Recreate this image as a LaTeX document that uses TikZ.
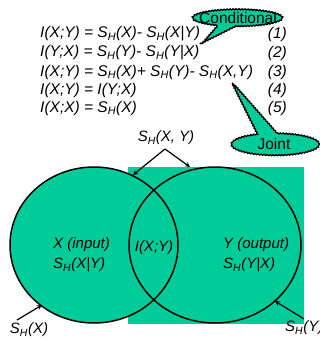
\documentclass[tikz,border=0pt]{standalone}
\usepackage{fontspec}
\setmainfont{Liberation Sans}
\usepackage{tikz}
\usetikzlibrary{shapes.geometric, shapes.callouts, arrows, decorations.pathmorphing, backgrounds}
\definecolor{venngreen}{RGB}{0,204,153}
\newcommand{\SH}{S\textsubscript{H}}
\tikzstyle{arrow} = [line width=1.2pt,->,>=stealth]
\tikzstyle{eqn} = [anchor=west, inner sep=0pt, font=\itshape\fontsize{15.5}{18}\selectfont]
\tikzstyle{eqnum} = [anchor=east, inner sep=0pt, font=\itshape\fontsize{15.5}{18}\selectfont]
\tikzstyle{tag} = [inner sep=0pt, align=left, font=\itshape\fontsize{15}{20}\selectfont]
\tikzstyle{setcircle} = [ellipse, minimum width=168pt, minimum height=156pt, draw=black, line width=1.5pt]
\tikzstyle{bubble} = [ellipse callout, draw=black, line width=1.3pt, fill=venngreen, decorate, decoration={snake, amplitude=0.5pt, segment length=3pt}]
\tikzstyle{bubbletext} = [inner sep=0pt, font=\fontsize{15.5}{17}\selectfont]

\begin{document}
\begin{tikzpicture}[x=1pt, y=-1pt]
\useasboundingbox (0,0) rectangle (320,341);
% equations
\node (eq1) [eqn] at (40,34) {I(X;Y) = \SH(X)- \SH(X|Y)};
\node (eq2) [eqn] at (40,53) {I(Y;X) = \SH(Y)- \SH(Y|X)};
\node (eq3) [eqn] at (40,72) {I(X;Y) = \SH(X)+ \SH(Y)- \SH(X,Y)};
\node (eq4) [eqn] at (40,90) {I(X;Y) = I(Y;X)};
\node (eq5) [eqn] at (40,108) {I(X;X) = \SH(X)};
\node (num1) [eqnum] at (287,34) {(1)};
\node (num2) [eqnum] at (287,53) {(2)};
\node (num3) [eqnum] at (287,72) {(3)};
\node (num4) [eqnum] at (287,90) {(4)};
\node (num5) [eqnum] at (287,108) {(5)};
% callouts
\node (cond) [bubble, minimum width=90pt, minimum height=17pt, callout absolute pointer={(200,44)}, callout pointer arc=25] at (237,18) {};
\node (condtext) [bubbletext] at (238,18) {Conditional};
\node (joint) [bubble, minimum width=88pt, minimum height=22pt, callout absolute pointer={(232,83)}, callout pointer arc=25] at (274,144) {};
\node (jointtext) [bubbletext] at (joint) {Joint};
% the two sets
\node (setx) [setcircle] at (94,245) {};
\node (sety) [setcircle, minimum width=172pt] at (215,245) {};
\begin{scope}[on background layer]
\fill [venngreen] (128,167) rectangle (304,324);
\fill [venngreen] (setx.center) ellipse [x radius=84pt, y radius=78pt];
\fill [venngreen] (sety.center) ellipse [x radius=86pt, y radius=78pt];
\end{scope}
\node (inx) [tag, anchor=west] at (53,255) {X (input)\\\SH(X|Y)};
\node (mutual) [tag] at (154,248) {I(X;Y)};
\node (outy) [tag, anchor=west] at (223,255) {Y (output)\\\SH(Y|X)};
% entropies
\node (sxy) [tag] at (166,138) {\SH(X, Y)};
\node (sx) [tag] at (29,330) {\SH(X)};
\node (sy) [tag, anchor=west] at (285,328) {\SH(Y)};
\coordinate (apex) at (165,149);
\coordinate (tipl) at (133,175);
\coordinate (tipr) at (190,167);
\coordinate (sxfoot) at (17,320);
\coordinate (sxtip) at (42,305);
\coordinate (syfoot) at (304,319);
\coordinate (sytip) at (275,301);
\draw [arrow] (apex) -- (tipl);
\draw [arrow] (apex) -- (tipr);
\draw [arrow] (sxfoot) -- (sxtip);
\draw [arrow] (syfoot) -- (sytip);
\end{tikzpicture}
\end{document}
